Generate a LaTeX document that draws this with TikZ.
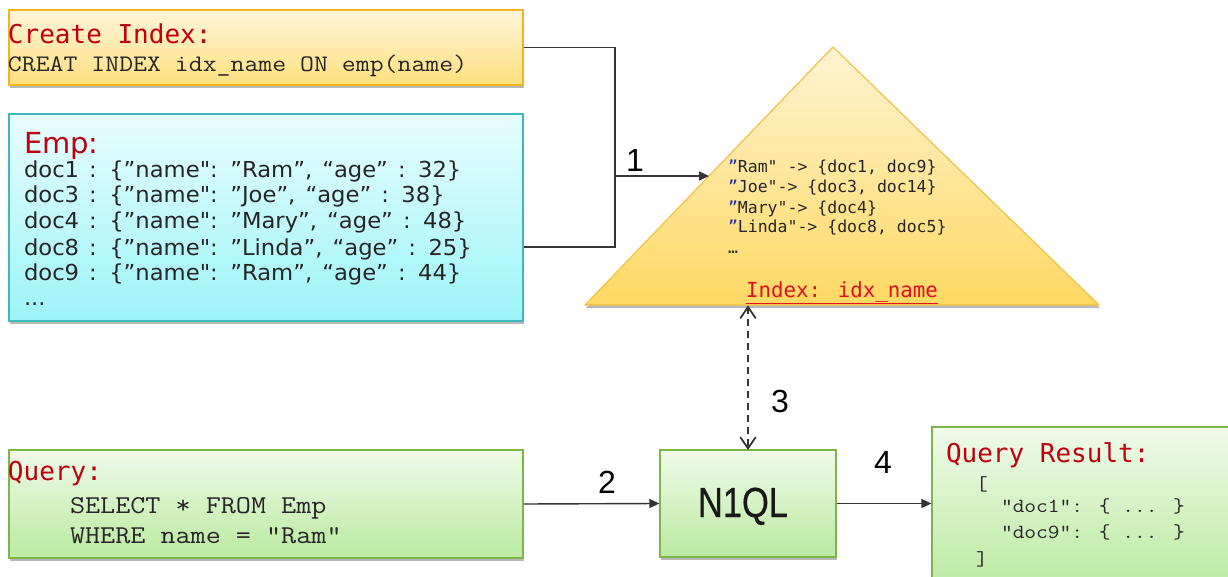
\documentclass[tikz,border=0pt]{standalone}
\usepackage{fontspec}
\usetikzlibrary{arrows.meta,shadows,calc}
\newfontfamily\monoS{DejaVu Sans Mono}[Ligatures=TeXOff]
\newfontfamily\sansV{DejaVu Sans}[Ligatures=TeXOff]
\newfontfamily\sansW{DejaVu Sans}[Ligatures=TeXOff,FakeStretch=1.03,WordSpace=1.4]
\newfontfamily\cour{Latin Modern Mono}[Ligatures=TeXOff,FakeStretch=1.14]
\newfontfamily\helv{Liberation Sans}[Ligatures=TeXOff]
\newfontfamily\helvN{Liberation Sans}[Ligatures=TeXOff,FakeStretch=0.82,FakeBold=0.6]
\definecolor{tred}{HTML}{C00010}
\definecolor{ired}{HTML}{E01020}
\definecolor{qblue}{HTML}{1A2BA0}
\definecolor{linec}{HTML}{333333}
\definecolor{ytop}{HTML}{FFF5DA}
\definecolor{ybot}{HTML}{FFE07E}
\definecolor{yborder}{HTML}{F2B51C}
\definecolor{ctop}{HTML}{E8FDFF}
\definecolor{cbot}{HTML}{9CF4F8}
\definecolor{cborder}{HTML}{3DB9BC}
\definecolor{ttop}{HTML}{FFF4D2}
\definecolor{tbot}{HTML}{FFD863}
\definecolor{tborder}{HTML}{F2C043}
\definecolor{gtop}{HTML}{EFFAE9}
\definecolor{gbot}{HTML}{BAEAA0}
\definecolor{gborder}{HTML}{7DB54A}
\begin{document}
\begin{tikzpicture}[x=1pt,y=-1pt,
  box/.style={draw, line width=1.2pt, inner sep=0pt,
    drop shadow={shadow xshift=1pt, shadow yshift=-3pt, opacity=0.28, fill=black}},
  ybox/.style={box, draw=yborder, top color=ytop, bottom color=ybot},
  cbox/.style={box, draw=cborder, top color=ctop, bottom color=cbot},
  gbox/.style={box, draw=gborder, top color=gtop, bottom color=gbot},
  txt/.style={anchor=base west, inner sep=0pt, outer sep=0pt},
  title/.style={txt, text=tred, font=\monoS\fontsize{26}{30}\selectfont},
  code/.style={txt, text=black!85, font=\cour\fontsize{#1}{#1}\selectfont},
  emptxt/.style={txt, text=black!85, font=\sansW\fontsize{22}{24}\selectfont},
  tritxt/.style={txt, text=black!85, font=\monoS\fontsize{16.5}{18}\selectfont},
  num/.style={txt, text=black, font=\helv\fontsize{32}{32}\selectfont},
  conn/.style={draw=linec, line width=1.4pt},
  arr/.style={conn, -{Triangle[length=10pt,width=9pt]}},
  dline/.style={draw=linec, line width=1.6pt, dash pattern=on 7pt off 5pt},
  chev/.style={draw=linec, line width=1.8pt, line cap=round, line join=miter}
]
\fill[white] (0,0) rectangle (1228,577);
\useasboundingbox (0,0) rectangle (1228,577);

% boxes
\node[ybox, minimum width=514pt, minimum height=75pt] (create) at (266,47.5) {};
\node[cbox, minimum width=514pt, minimum height=207pt] (emp) at (266,217.5) {};
\node[gbox, minimum width=514pt, minimum height=108pt] (query) at (266,504) {};
\node[gbox, minimum width=176pt, minimum height=107pt] (n1ql) at (748,503.5) {};
\node[gbox, minimum width=310pt, minimum height=165pt] (result) at (1087,509.5) {};

% triangle
\coordinate (apex) at (833,47);
\coordinate (bl) at (585,305);
\coordinate (br) at (1099,305);
\path[draw=tborder, line width=1.2pt, top color=ttop, bottom color=tbot, line join=round,
  drop shadow={shadow xshift=1pt, shadow yshift=-3pt, opacity=0.28, fill=black}]
  (apex) -- (br) -- (bl) -- cycle;

% create index text
\node[title] (createT) at (8,44) {Create Index:};
\node[code=23.7] (createC) at (8,72) {CREAT INDEX idx\_name ON emp(name)};

% emp text
\node[txt, text=tred, font=\sansV\fontsize{29}{30}\selectfont] (empT) at (24,154) {Emp:};
\node[emptxt] (e1) at (24,178) {doc1 : \{”name": ”Ram”, “age” : 32\}};
\node[emptxt] (e2) at (24,203) {doc3 : \{”name": ”Joe”, “age” : 38\}};
\node[emptxt] (e3) at (24,229) {doc4 : \{”name": ”Mary”, “age” : 48\}};
\node[emptxt] (e4) at (24,255) {doc8 : \{”name": ”Linda”, “age” : 25\}};
\node[emptxt] (e5) at (24,280) {doc9 : \{”name": ”Ram”, “age” : 44\}};
\node[emptxt] (e6) at (24,305) {...};

% triangle text
\node[tritxt] (t1) at (728,173) {\textcolor{qblue}{”}Ram" -> \{doc1, doc9\}};
\node[tritxt] (t2) at (728,193) {\textcolor{qblue}{”}Joe"-> \{doc3, doc14\}};
\node[tritxt] (t3) at (728,214) {\textcolor{qblue}{”}Mary"-> \{doc4\}};
\node[tritxt] (t4) at (728,233) {\textcolor{qblue}{”}Linda"-> \{doc8, doc5\}};
\node[tritxt] (t5) at (728,254) {…};
\node[txt, text=ired, font=\monoS\fontsize{20.8}{24}\selectfont] (idx) at (746,297) {\underline{Index: idx\_name}};

% query text
\node[title] (queryT) at (8,480) {Query:};
\node[code=25.7] (q1) at (70,513) {SELECT * FROM Emp};
\node[code=25.7] (q2) at (70,543) {WHERE name = ”Ram”};

% n1ql text
\node[anchor=base, inner sep=0pt, text=black!90, font=\helvN\fontsize{42}{42}\selectfont] (n1qlT) at (743,517) {N1QL};

% result text
\node[title] (resT) at (946,462) {Query Result:};
\node[code=20] (r1) at (976,490) {[};
\node[code=20] (r2) at (1001,512) {"doc1": \{ ... \}};
\node[code=20] (r3) at (1001,538) {"doc9": \{ ... \}};
\node[code=20] (r4) at (976,565) {]};

% connectors
\coordinate (j) at (615,176);
\coordinate (triL) at ($(apex)!0.5!(bl)$);
\draw[conn] (create.east) -| (j);
\draw[conn] ([yshift=-29.5pt]emp.east) -| (j);
\draw[arr] (j) -- (triL);
\draw[arr] (query.east) -- (n1ql.west);
\draw[arr] (n1ql.east) -- (n1ql.east -| result.west);
\coordinate (tribase) at ([yshift=-2pt]n1ql.north |- bl);
\coordinate (n1top) at ([yshift=1pt]n1ql.north);
\draw[dline] (tribase) -- (n1top);
\draw[chev] ([shift={(-7.5pt,-11pt)}]tribase) -- (tribase) -- ([shift={(7.5pt,-11pt)}]tribase);
\draw[chev] ([shift={(-7.5pt,11pt)}]n1top) -- (n1top) -- ([shift={(7.5pt,11pt)}]n1top);

% step numbers
\node[num] (n1) at (626,172) {1};
\node[num] (n2) at (598,493) {2};
\node[num] (n3) at (771,412) {3};
\node[num] (n4) at (874,473) {4};
\end{tikzpicture}
\end{document}
